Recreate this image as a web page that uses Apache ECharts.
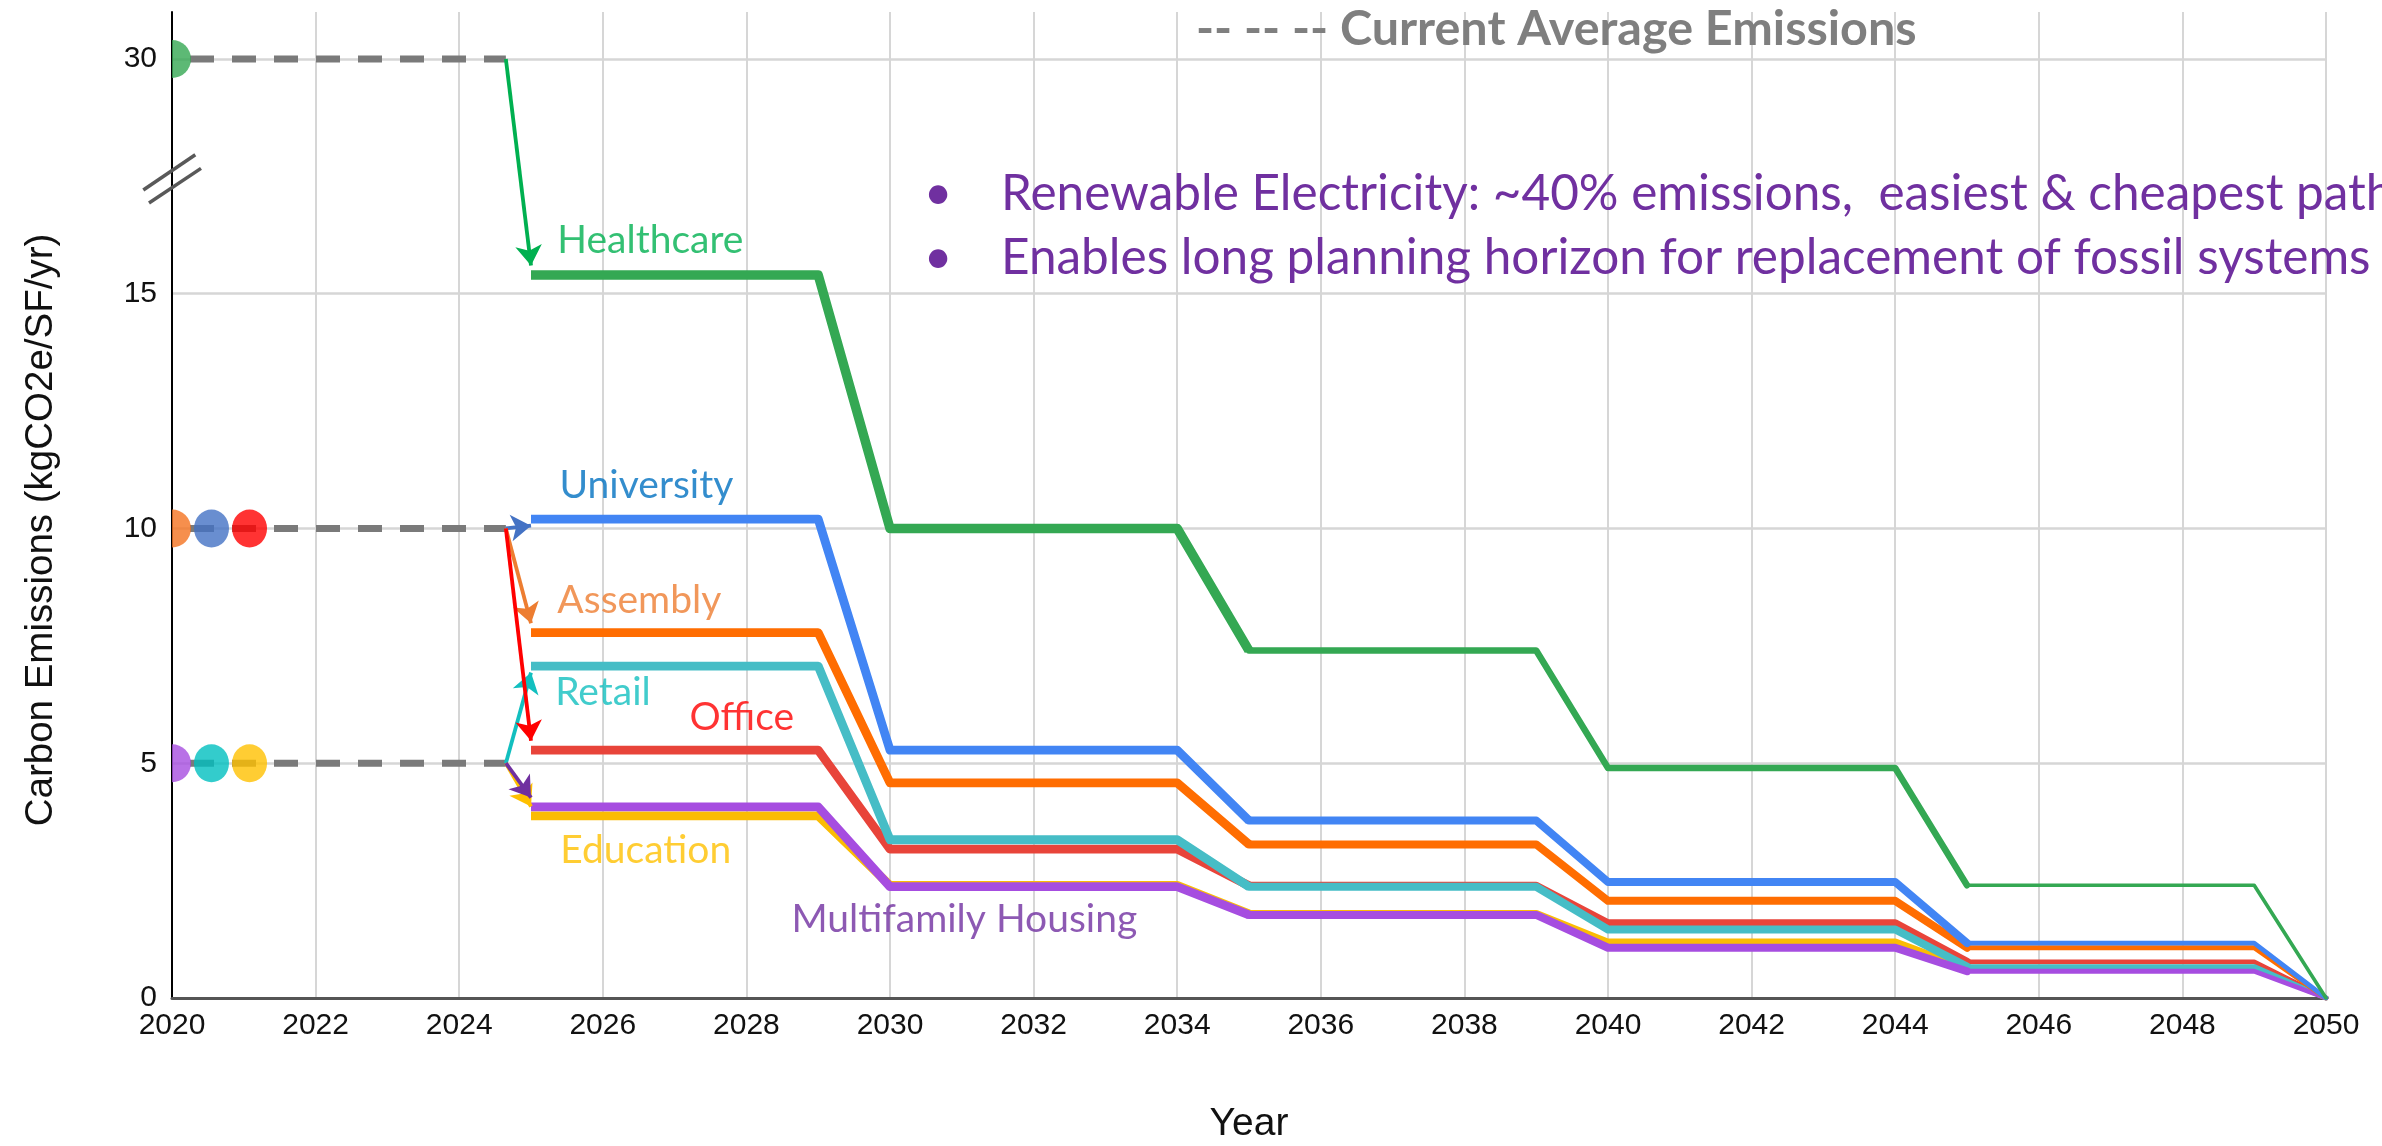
<!DOCTYPE html>
<html><head><meta charset="utf-8">
<script src="https://cdn.jsdelivr.net/npm/echarts@6/dist/echarts.min.js"></script>
<style>html,body{margin:0;padding:0;background:#fff}#c{width:2382px;height:1146px}</style>
</head><body><div id="c"></div>
<script>
// ---------------- DATA ----------------
const years       = [2025, 2029, 2030, 2034, 2035, 2039, 2040, 2044, 2045, 2049, 2050];
const healthcare  = [15.4, 15.4, 10.0, 10.0, 7.4, 7.4, 4.9, 4.9, 2.4, 2.4, 0];
const university  = [10.2, 10.2, 5.28, 5.28, 3.78, 3.78, 2.47, 2.47, 1.17, 1.17, 0];
const assembly    = [7.78, 7.78, 4.58, 4.58, 3.27, 3.27, 2.07, 2.07, 1.07, 1.07, 0];
const retail      = [7.07, 7.07, 3.37, 3.37, 2.37, 2.37, 1.46, 1.46, 0.67, 0.67, 0];
const office      = [5.28, 5.28, 3.17, 3.17, 2.39, 2.39, 1.59, 1.59, 0.77, 0.77, 0];
const education   = [3.88, 3.88, 2.40, 2.40, 1.79, 1.79, 1.18, 1.18, 0.62, 0.62, 0];
const multifamily = [4.07, 4.07, 2.37, 2.37, 1.77, 1.77, 1.07, 1.07, 0.57, 0.57, 0];
const categories  = ['Healthcare', 'University', 'Assembly', 'Retail', 'Office', 'Education', 'Multifamily Housing'];
const currentAvg  = [30, 10, 10, 5, 10, 5, 5];          // current average emissions per category
const avgLevels   = [30, 10, 5];
const avgStartYear = 2020, avgEndYear = 2024.65;
const yTickValues = [0, 5, 10, 15, 30];
const xTitle = 'Year';
const yTitle = 'Carbon Emissions (kgCO2e/SF/yr)';
const bullets = ['Renewable Electricity: ~40% emissions,  easiest & cheapest path',
                 'Enables long planning horizon for replacement of fossil systems'];
const legendNote = '-- -- -- Current Average Emissions';

// ---------------- STYLE / LAYOUT ----------------
const FONT = 'Liberation Sans, Arial, sans-serif';
const TFONT = 'Lato, Carlito, Calibri, sans-serif';
const lineColor  = ['#34a853', '#4285f4', '#ff6d01', '#46bdc6', '#e8443a', '#fbbc04', '#a64de0'];
const textColor  = ['#00b050', '#0070c0', '#ed7d31', '#12bfbf', '#ff0000', '#ffc000', '#7030a0'];
const arrowColor = ['#00b050', '#4472c4', '#ed7d31', '#12bfbf', '#ff0000', '#ffc000', '#7030a0'];
const markColor  = ['#34a853', '#4472c4', '#f47321', '#00bfbf', '#ff0000', '#ffc000', '#a64de0'];
const markYear   = [2020, 2020.55, 2020, 2020.55, 2021.08, 2021.08, 2020];
const segRanges  = [[0, 4], [4, 8], [8, 10]];
const segWidths  = [[9.5, 6.5, 3.6], [8.8, 8, 4.8], [8.8, 8, 4.8], [8.8, 8, 4.8], [8.8, 8, 4.8], [8.8, 8, 4.8], [8.8, 8, 4.8]];
const labelAt    = [[2025.36, 16.14], [2025.39, 10.91], [2025.36, 8.47], [2025.33, 6.51], [2027.2, 5.98], [2025.4, 3.15], [2028.62, 1.67]];
const drawOrder  = [5, 4, 3, 6, 2, 1, 0];

// axis break: values above BREAK_FROM are shifted down by BREAK_SHIFT
const BREAK_FROM = 17.5, BREAK_SHIFT = 10;
const disp = v => v > BREAK_FROM ? v - BREAK_SHIFT : v;
const undisp = v => v > BREAK_FROM ? v + BREAK_SHIFT : v;

const valuesOf = [healthcare, university, assembly, retail, office, education, multifamily];

const series = [];

// current average dashed lines
avgLevels.forEach(lv => {
  series.push({
    type: 'line', silent: true, symbol: 'none', z: 3,
    data: [[avgStartYear, disp(lv)], [avgEndYear, disp(lv)]],
    lineStyle: { color: '#7a7a7a', width: 7, type: [24, 18], dashOffset: 24, cap: 'butt' }
  });
});

// start markers
const halfPath = 'path://M0,0 A10,20 0 0 1 0,40 Z';
const fullPath = 'path://M0,20 A17,20 0 1 1 34,20 A17,20 0 1 1 0,20 Z';
series.push({
  type: 'scatter', silent: true, z: 5,
  data: categories.map((c, i) => {
    const half = markYear[i] === avgStartYear;
    return {
      value: [markYear[i], disp(currentAvg[i])],
      symbol: half ? halfPath : fullPath,
      symbolSize: half ? [19, 38] : [35, 38],
      symbolOffset: half ? [9.5, 0] : [0, 0],
      itemStyle: { color: markColor[i] }
    };
  })
});

// pathway lines
drawOrder.forEach(i => {
  const vals = valuesOf[i];
  segRanges.forEach(([a, b], s) => {
    const d = [];
    for (let k = a; k <= b; k++) d.push([years[k], disp(vals[k])]);
    series.push({
      type: 'line', silent: true, symbol: 'none', z: 4, name: categories[i],
      data: d,
      lineStyle: { color: lineColor[i], width: segWidths[i][s], cap: s === 0 ? 'butt' : 'round', join: 'round' }
    });
  });
});

// arrows from current average to the 2025 start level
series.push({
  type: 'lines', coordinateSystem: 'cartesian2d', silent: true, z: 6,
  symbol: ['none', 'arrow'], symbolSize: [0, 20],
  data: categories.map((c, i) => {
    const v0 = valuesOf[i][0];
    const tip = v0 + (currentAvg[i] > v0 ? 0.2 : -0.14);
    return {
      coords: [[avgEndYear, disp(currentAvg[i])], [years[0], disp(tip)]],
      lineStyle: { color: arrowColor[i], width: 3.8, curveness: 0, opacity: 1 }
    };
  })
});

// category labels
series.push({
  type: 'scatter', silent: true, z: 7, symbolSize: 1, itemStyle: { color: 'rgba(0,0,0,0)' },
  data: categories.map((c, i) => ({
    name: c, value: labelAt[i],
    label: { show: true, position: 'right', distance: 0, formatter: '{b}',
      color: textColor[i], fontSize: 39, fontFamily: TFONT }
  }))
});

const chart = echarts.init(document.getElementById('c'));
chart.setOption({
  animation: false,
  backgroundColor: '#fff',
  grid: { left: 172, right: 56, top: 12, bottom: 148, containLabel: false, outerBoundsMode: 'none' },
  xAxis: {
    type: 'value', min: 2020, max: 2050, interval: 2,
    axisLine: { show: true, onZero: false, lineStyle: { color: '#555', width: 3 } },
    axisTick: { show: false },
    axisLabel: { fontSize: 30, color: '#111', fontFamily: FONT, margin: 13, formatter: v => String(v) },
    splitLine: { show: true, lineStyle: { color: '#d6d6d6', width: 2 } }
  },
  yAxis: {
    type: 'value', min: 0, max: 21, interval: 5,
    axisLine: { show: true, lineStyle: { color: '#000', width: 2 } },
    axisTick: { show: false },
    axisLabel: { fontSize: 30, color: '#111', fontFamily: FONT, margin: 15, showMaxLabel: false,
      formatter: v => yTickValues.indexOf(undisp(v)) >= 0 ? String(undisp(v)) : '' },
    splitLine: { show: true, showMaxLine: false, lineStyle: { color: '#d6d6d6', width: 2.5 } }
  },
  series: series
});

// annotations: axis titles, break marker, legend note, bullets
const c = chart.convertToPixel({ gridIndex: 0 }, [2020, 17.45]);
const p0 = chart.convertToPixel({ gridIndex: 0 }, [2020, 0]);
const p1 = chart.convertToPixel({ gridIndex: 0 }, [2050, 0]);
const graphic = [
  { type: 'text', z: 10, x: (p0[0] + p1[0]) / 2, y: p0[1] + 126,
    style: { text: xTitle, fill: '#111', fontSize: 39, fontFamily: FONT, align: 'center', verticalAlign: 'middle' } },
  { type: 'text', z: 10, x: 41, y: 530, rotation: Math.PI / 2,
    style: { text: yTitle, fill: '#111', fontSize: 38.5, fontFamily: FONT, align: 'center', verticalAlign: 'middle' } },
  { type: 'line', z: 10, shape: { x1: c[0] - 28.7, y1: c[1] + 11.3, x2: c[0] + 23.3, y2: c[1] - 24 },
    style: { stroke: '#595959', lineWidth: 3.5 } },
  { type: 'line', z: 10, shape: { x1: c[0] - 23, y1: c[1] + 24.3, x2: c[0] + 29, y2: c[1] - 10.3 },
    style: { stroke: '#595959', lineWidth: 3.5 } },
  { type: 'text', z: 10, x: 1196, y: 29,
    style: { text: legendNote, fill: '#7f7f7f', fontSize: 48.5, fontWeight: 'bold', fontFamily: TFONT, align: 'left', verticalAlign: 'middle' } }
];
bullets.forEach((b, k) => {
  const y = 194 + k * 64;
  graphic.push({ type: 'text', z: 10, x: 938, y: y,
    style: { text: '•', fill: '#7030a0', fontSize: 49.5, fontFamily: TFONT, align: 'center', verticalAlign: 'middle' } });
  graphic.push({ type: 'text', z: 10, x: 1001, y: y,
    style: { text: b, fill: '#7030a0', fontSize: 49.5, fontFamily: TFONT, align: 'left', verticalAlign: 'middle' } });
});
chart.setOption({ graphic: graphic });
</script>
</body></html>
